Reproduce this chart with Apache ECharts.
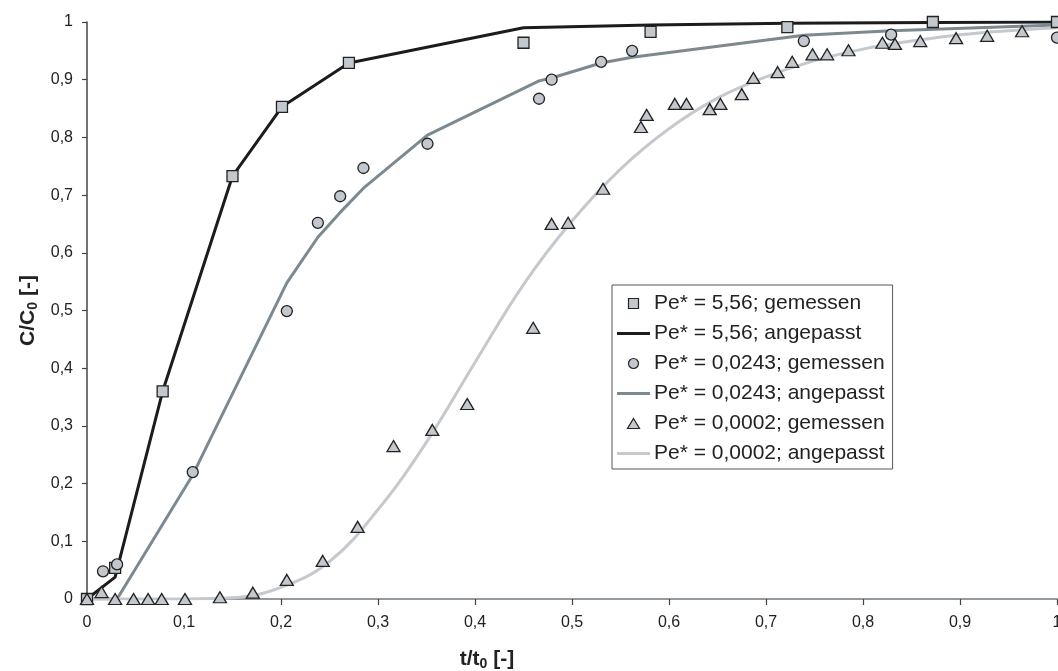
<!DOCTYPE html>
<html>
<head>
<meta charset="utf-8">
<script src="https://cdn.jsdelivr.net/npm/echarts@6/dist/echarts.min.js"></script>
<style>
html, body { margin: 0; padding: 0; background: #fff; }
#chart { width: 1058px; height: 671px; }
</style>
</head>
<body>
<div id="chart"></div>
<script>
// Pe* = 5,56
var sqX = [0, 0.029, 0.078, 0.15, 0.201, 0.27, 0.45, 0.581, 0.722, 0.872, 1.0];
var sqY = [0, 0.054, 0.36, 0.733, 0.853, 0.929, 0.964, 0.983, 0.991, 1.0, 1.0];
var fit1X = [0, 0.029, 0.078, 0.15, 0.201, 0.27, 0.45, 0.581, 0.722, 0.872, 1.0];
var fit1Y = [0, 0.038, 0.36, 0.733, 0.853, 0.929, 0.99, 0.995, 0.998, 0.999, 1.0];

// Pe* = 0,0243
var ciX = [0.0165, 0.031, 0.109, 0.206, 0.238, 0.261, 0.285, 0.351, 0.466, 0.479, 0.53, 0.562, 0.739, 0.829, 1.0];
var ciY = [0.048, 0.06, 0.22, 0.499, 0.652, 0.698, 0.747, 0.789, 0.867, 0.9, 0.931, 0.95, 0.967, 0.978, 0.973];
var fit2X = [0, 0.0165, 0.031, 0.109, 0.206, 0.238, 0.261, 0.285, 0.351, 0.466, 0.479, 0.53, 0.562, 0.739, 0.829, 1.0];
var fit2Y = [0, 0, 0, 0.215, 0.548, 0.627, 0.67, 0.712, 0.804, 0.898, 0.903, 0.929, 0.939, 0.977, 0.985, 0.995];

// Pe* = 0,0002
var trX = [0, 0.015, 0.029, 0.048, 0.063, 0.077, 0.101, 0.137, 0.171, 0.206, 0.243, 0.279, 0.316, 0.356, 0.392, 0.46,
    0.479, 0.496, 0.532, 0.571, 0.577, 0.606, 0.618, 0.642, 0.653, 0.675, 0.687, 0.712, 0.727, 0.748, 0.763, 0.785,
    0.82, 0.833, 0.859, 0.896, 0.928, 0.964];
var trY = [0, 0.012, 0, 0, 0, 0, 0, 0.003, 0.011, 0.033, 0.066, 0.125, 0.265, 0.293, 0.338, 0.47,
    0.65, 0.652, 0.711, 0.818, 0.839, 0.858, 0.858, 0.849, 0.858, 0.875, 0.903, 0.913, 0.931, 0.944, 0.944, 0.951,
    0.964, 0.962, 0.967, 0.972, 0.976, 0.984];
var fit3X = [0, 0.05, 0.1, 0.15, 0.2, 0.25, 0.3, 0.35, 0.4, 0.45, 0.5, 0.55, 0.6, 0.65, 0.7, 0.75, 0.8, 0.85, 0.9, 0.95, 1.0];
var fit3Y = [0, 0, 0, 0.002, 0.02, 0.065, 0.155, 0.272, 0.41, 0.545, 0.655, 0.745, 0.815, 0.868, 0.905, 0.933, 0.953, 0.967, 0.978, 0.985, 0.99];

var names = [
    'Pe* = 5,56; gemessen', 'Pe* = 5,56; angepasst',
    'Pe* = 0,0243; gemessen', 'Pe* = 0,0243; angepasst',
    'Pe* = 0,0002; gemessen', 'Pe* = 0,0002; angepasst'
];
var fitColors = ['#1c1c1c', '#7d8990', '#c5c9ce'];

var markerFill = '#c3c7ce';
var markerEdge = '#222222';
var squarePath = 'path://M0,0L10,0L10,10L0,10Z';
var trianglePath = 'path://M6,0L12,10L0,10Z';
var barPath = 'path://M0,0L33,0L33,3L0,3Z';

function pairs(xs, ys) {
    var out = [];
    for (var i = 0; i < xs.length; i++) {
        out.push([xs[i], ys[i]]);
    }
    return out;
}

function commaLabel(v) {
    return String(Math.round(v * 10) / 10).replace('.', ',');
}

function markerSeries(name, xs, ys, symbol, size) {
    return {
        name: name,
        type: 'scatter',
        data: pairs(xs, ys),
        symbol: symbol,
        symbolSize: size,
        z: 5,
        itemStyle: { color: markerFill, borderColor: markerEdge, borderWidth: 1.3, opacity: 1 }
    };
}

function fitSeries(name, xs, ys, color, smooth) {
    return {
        name: name,
        type: 'line',
        data: pairs(xs, ys),
        symbol: 'none',
        smooth: smooth,
        z: 3,
        lineStyle: { color: color, width: 3 },
        itemStyle: { color: color }
    };
}

function lineLegend(name, color) {
    return { name: name, icon: barPath, itemStyle: { color: color, borderWidth: 0 } };
}

var chart = echarts.init(document.getElementById('chart'));
var font = 'Liberation Sans, Arial, sans-serif';
var nameRich = {
    a: { fontFamily: font, fontSize: 21, fontWeight: 'bold', color: '#222' },
    s: { fontFamily: font, fontSize: 14, fontWeight: 'bold', color: '#222', padding: [10, 0, 0, 0] }
};

var option = {
    backgroundColor: '#fff',
    animation: false,
    textStyle: { fontFamily: font },
    grid: { left: 87, right: 1, top: 22, bottom: 72, outerBoundsMode: 'none', containLabel: false },
    legend: {
        orient: 'vertical',
        left: 612,
        top: 285,
        padding: [8, 8, 5, 5],
        borderColor: '#555',
        borderWidth: 1,
        backgroundColor: '#fff',
        itemWidth: 33,
        itemHeight: 10,
        itemGap: 9,
        itemStyle: { borderColor: markerEdge, borderWidth: 1.2 },
        textStyle: { fontFamily: font, fontSize: 21, color: '#222', lineHeight: 21, padding: [0, 0, 0, -1] },
        data: [
            { name: names[0], icon: squarePath },
            lineLegend(names[1], fitColors[0]),
            { name: names[2], icon: 'circle' },
            lineLegend(names[3], fitColors[1]),
            { name: names[4], icon: trianglePath },
            lineLegend(names[5], fitColors[2])
        ]
    },
    xAxis: [{
        type: 'value',
        min: 0,
        max: 1,
        interval: 0.1,
        name: '{a|t/t}{s|0}{a| [-]}',
        nameLocation: 'middle',
        nameGap: 48,
        nameTextStyle: { padding: [0, 170, 0, 0], rich: nameRich },
        axisLine: { show: true, onZero: false, lineStyle: { color: '#444', width: 1.5 } },
        axisTick: { show: true, inside: false, length: 6, lineStyle: { color: '#444', width: 1.2 } },
        axisLabel: { margin: 16, fontSize: 16, color: '#222', formatter: commaLabel },
        splitLine: { show: false }
    }, {
        type: 'value',
        position: 'top',
        min: 0,
        max: 1,
        axisLine: { show: true, lineStyle: { color: '#9ea9b0', width: 1.5 } },
        axisTick: { show: false },
        axisLabel: { show: false },
        splitLine: { show: false }
    }],
    yAxis: {
        type: 'value',
        min: 0,
        max: 1,
        interval: 0.1,
        name: '{a|C/C}{s|0}{a| [-]}',
        nameLocation: 'middle',
        nameGap: 40,
        nameTextStyle: { rich: nameRich },
        axisLine: { show: true, onZero: false, lineStyle: { color: '#444', width: 1.5 } },
        axisTick: { show: true, inside: false, length: 5, lineStyle: { color: '#444', width: 1.2 } },
        axisLabel: { margin: 14, fontSize: 16, color: '#222', formatter: commaLabel },
        splitLine: { show: false }
    },
    series: [
        markerSeries(names[0], sqX, sqY, squarePath, 11),
        fitSeries(names[1], fit1X, fit1Y, fitColors[0], false),
        markerSeries(names[2], ciX, ciY, 'circle', 11),
        fitSeries(names[3], fit2X, fit2Y, fitColors[1], false),
        markerSeries(names[4], trX, trY, trianglePath, [13, 11]),
        fitSeries(names[5], fit3X, fit3Y, fitColors[2], 0.4)
    ]
};

chart.setOption(option);
</script>
</body>
</html>
